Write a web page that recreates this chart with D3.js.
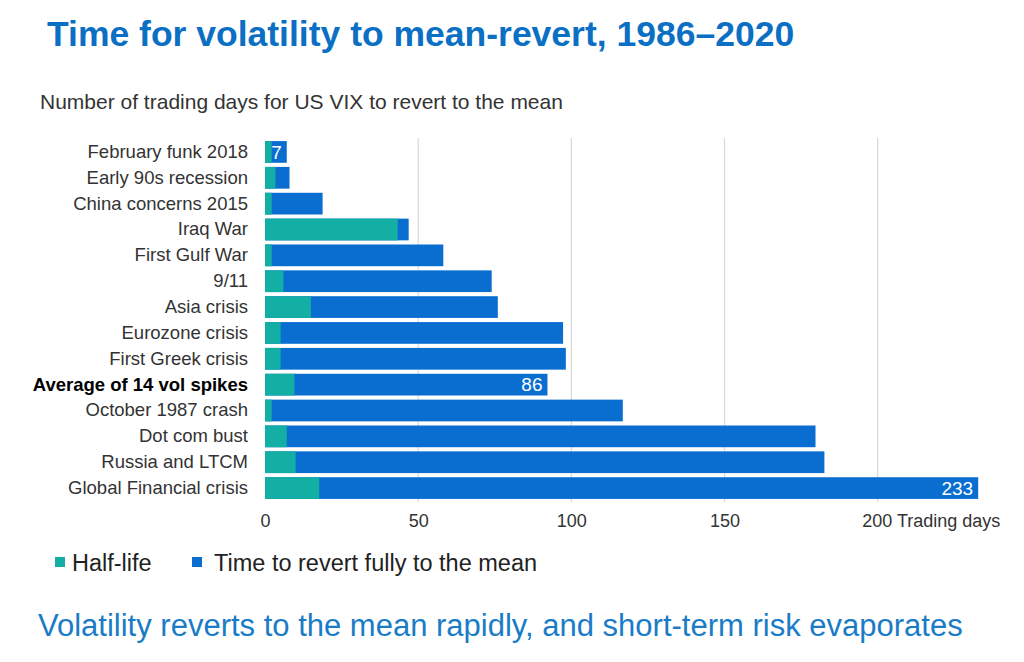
<!DOCTYPE html>
<html>
<head>
<meta charset="utf-8">
<script src="https://cdn.jsdelivr.net/npm/d3@7"></script>
<style>
  body { margin: 0; background: #fff; }
  svg { display: block; font-family: "Liberation Sans", Arial, sans-serif; }
</style>
</head>
<body>
<div class="chart-section"></div>
<script>
// data
const events = [
  "February funk 2018",
  "Early 90s recession",
  "China concerns 2015",
  "Iraq War",
  "First Gulf War",
  "9/11",
  "Asia crisis",
  "Eurozone crisis",
  "First Greek crisis",
  "Average of 14 vol spikes",
  "October 1987 crash",
  "Dot com bust",
  "Russia and LTCM",
  "Global Financial crisis",
];
const halfLife = [2.2, 3.4, 2.2, 43.3, 2.2, 6, 15, 5.1, 5.1, 9.6, 2.2, 7.1, 10, 17.7];
const fullRevert = [7.1, 8, 18.8, 46.9, 58.2, 74, 76, 97.3, 98.2, 92.2, 116.8, 179.7, 182.6, 232.8];
const barLabels = ["7", "", "", "", "", "", "", "", "", "86", "", "", "", "233"];
const xTicks = [0, 50, 100, 150, 200];

const width = 1024;
const height = 662;
const teal = "#13aea4";
const blue = "#0a6ed1";

const svg = d3
  .select(".chart-section")
  .append("svg")
  .attr("width", width)
  .attr("height", height);

const x = d3.scaleLinear().domain([0, 200]).range([265, 877.7]);
const y = d3.scaleBand().domain(events).range([139, 501]).paddingInner(0.16).paddingOuter(0.08);

// titles
svg.append("text")
  .attr("x", 47).attr("y", 46)
  .attr("fill", "#0b6fc4")
  .attr("font-weight", "bold")
  .attr("font-size", 35.5)
  .text("Time for volatility to mean-revert, 1986\u20132020");

svg.append("text")
  .attr("x", 40).attr("y", 109)
  .attr("fill", "#333")
  .attr("font-size", 21)
  .text("Number of trading days for US VIX to revert to the mean");

// gridlines
svg.append("g")
  .selectAll("line")
  .data(xTicks.slice(1))
  .join("line")
  .attr("x1", (d) => x(d)).attr("x2", (d) => x(d))
  .attr("y1", 138).attr("y2", 502)
  .attr("stroke", "#d9d9d9")
  .attr("stroke-width", 1.2);

// full revert bars (back), half-life on top
const rows = events.map((e, i) => ({
  name: e, half: halfLife[i], full: fullRevert[i], label: barLabels[i],
}));

svg.append("g")
  .selectAll("rect")
  .data(rows)
  .join("rect")
  .attr("x", x(0))
  .attr("y", (d) => y(d.name))
  .attr("width", (d) => x(d.full) - x(0))
  .attr("height", y.bandwidth())
  .attr("fill", blue);

svg.append("g")
  .selectAll("rect")
  .data(rows)
  .join("rect")
  .attr("x", x(0))
  .attr("y", (d) => y(d.name))
  .attr("width", (d) => x(d.half) - x(0))
  .attr("height", y.bandwidth())
  .attr("fill", teal);

// value labels inside bars
svg.append("g")
  .selectAll("text")
  .data(rows.filter((d) => d.label))
  .join("text")
  .attr("x", (d) => x(d.full) - 5)
  .attr("y", (d) => y(d.name) + y.bandwidth() / 2)
  .attr("dy", "0.36em")
  .attr("text-anchor", "end")
  .attr("fill", "#fff")
  .attr("font-size", 19)
  .text((d) => d.label);

// category labels
const yAxis = d3.axisLeft(y).tickSize(0).tickPadding(17);
const yg = svg.append("g").attr("transform", `translate(${x(0)},0)`).call(yAxis);
yg.select(".domain").remove();
yg.selectAll("text")
  .attr("font-size", 18.5)
  .attr("font-family", "Liberation Sans, Arial, sans-serif")
  .attr("font-weight", (d) => (d.startsWith("Average") ? "bold" : "normal"))
  .attr("fill", (d) => (d.startsWith("Average") ? "#000" : "#333"));

// x axis
const xAxis = d3.axisBottom(x).tickValues(xTicks).tickSize(0).tickPadding(9);
const xg = svg.append("g").attr("transform", "translate(0,505)").call(xAxis);
xg.select(".domain").remove();
xg.selectAll("text")
  .attr("font-size", 18)
  .attr("font-family", "Liberation Sans, Arial, sans-serif")
  .attr("fill", "#333");
xg.selectAll(".tick")
  .filter((d) => d === 200)
  .select("text")
  .attr("text-anchor", "start")
  .attr("x", -16)
  .text("200 Trading days");

// legend
const legendItems = [
  { label: "Half-life", color: teal, x: 55, tx: 72 },
  { label: "Time to revert fully to the mean", color: blue, x: 192, tx: 214 },
];
const legend = svg.append("g").attr("id", "legend");
legend.selectAll("rect")
  .data(legendItems)
  .join("rect")
  .attr("x", (d) => d.x).attr("y", 557)
  .attr("width", 10).attr("height", 10)
  .attr("fill", (d) => d.color);
legend.selectAll("text")
  .data(legendItems)
  .join("text")
  .attr("x", (d) => d.tx).attr("y", 571)
  .attr("font-size", 23.5)
  .attr("fill", "#222")
  .text((d) => d.label);

// takeaway
svg.append("text")
  .attr("x", 38).attr("y", 636)
  .attr("fill", "#1a7cc6")
  .attr("font-size", 31)
  .text("Volatility reverts to the mean rapidly, and short-term risk evaporates");
</script>
</body>
</html>
